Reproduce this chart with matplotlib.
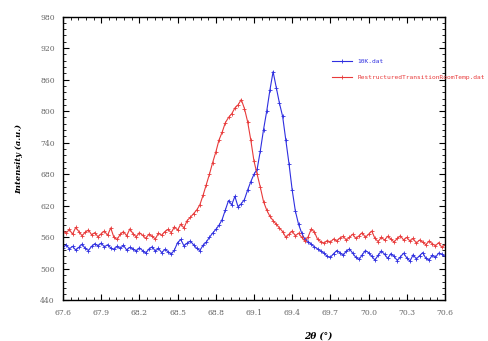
import numpy as np
import matplotlib.pyplot as plt
from matplotlib.ticker import MultipleLocator

# x grid of the scan (2theta, degrees)
two_theta = np.linspace(67.6, 70.6, 121)

# 10K.dat
intens_10k = [
    540, 546, 538, 543, 536, 541, 547, 539, 535, 543,
    548, 544, 549, 542, 546, 540, 537, 543, 539, 545,
    536, 541, 538, 534, 540, 535, 530, 538, 542, 534,
    539, 531, 537, 533, 528, 536, 550, 556, 544, 549,
    553, 546, 539, 535, 545, 551, 560, 568, 575, 583,
    594, 612, 630, 622, 638, 618, 624, 632, 650, 666,
    680, 690, 725, 765, 800, 840, 875, 845, 815, 790,
    745, 700, 650, 610, 585, 568, 556, 552, 547, 542,
    538, 534, 530, 524, 522, 529, 535, 531, 526, 534,
    538, 530, 522, 518, 527, 535, 531, 524, 517, 526,
    534, 528, 520, 529, 524, 516, 523, 530, 521, 515,
    527, 519, 525, 531, 520, 517, 526, 522, 530, 528,
    524,
]

# RestructuredTransitionRoomTemp.dat
intens_rt = [
    572, 568, 575, 566, 579, 571, 563, 570, 574, 565,
    569, 561, 567, 572, 564, 578, 560, 556, 566, 571,
    563, 576, 567, 561, 569, 564, 558, 566, 562, 557,
    568, 564, 571, 575, 569, 580, 574, 585, 578, 592,
    598, 605, 612, 622, 640, 660, 680, 702, 722, 745,
    760, 778, 788, 795, 806, 812, 822, 805, 780, 745,
    705, 680, 655, 628, 612, 600, 592, 585, 578, 571,
    560, 566, 572, 563, 568, 560, 553, 561, 576, 570,
    556, 552, 549, 554, 551, 557, 553, 559, 562, 555,
    560, 566, 558, 563, 569, 560, 566, 572, 558, 552,
    560, 555, 562, 557, 551, 558, 563, 555, 560, 553,
    558, 549, 555, 551, 546, 553, 548, 544, 550, 541,
    546,
]

names = ["10K.dat", "RestructuredTransitionRoomTemp.dat"]
colors = ["#2f2fe0", "#e83a3a"]

fig = plt.figure(figsize=(4.89, 3.41), dpi=100)
ax = fig.add_axes([0.1288, 0.1188, 0.7812, 0.8328])

for vals, name, c in zip([intens_10k, intens_rt], names, colors):
    ax.plot(two_theta, vals, '-', marker='+', markersize=2.5, markeredgewidth=0.6,
            linewidth=0.8, color=c, label=name)

ax.set_xlim(67.6, 70.6)
ax.set_ylim(440, 980)
ax.xaxis.set_major_locator(MultipleLocator(0.3, offset=67.6))
ax.xaxis.set_minor_locator(MultipleLocator(0.06, offset=67.6))
ax.yaxis.set_major_locator(MultipleLocator(60, offset=440))
ax.yaxis.set_minor_locator(MultipleLocator(12, offset=440))
ax.xaxis.set_major_formatter(plt.FuncFormatter(lambda v, p: f"{v:.1f}"))
ax.tick_params(which='both', direction='in', top=True, right=True,
               labelsize=5.5, labelcolor='#666666', pad=6)
ax.tick_params(which='major', length=4, width=0.8)
ax.tick_params(which='minor', length=2, width=0.6)
for lab in ax.get_xticklabels() + ax.get_yticklabels():
    lab.set_family('DejaVu Serif')
for s in ax.spines.values():
    s.set_linewidth(1.0)

ax.set_ylabel('Intensity (a.u.)', family='DejaVu Serif', style='italic',
              weight='bold', fontsize=6)
ax.yaxis.set_label_coords(-0.105, 0.5)
ax.set_xlabel('2θ (°)', family='DejaVu Serif', style='italic',
              weight='bold', fontsize=6.5)
ax.xaxis.set_label_coords(0.667, -0.11)

leg = ax.legend(loc='upper left', bbox_to_anchor=(0.69, 0.87), frameon=False,
                prop={'family': 'DejaVu Sans Mono', 'size': 4.5},
                handlelength=3.2, labelspacing=1.7)
for txt, c in zip(leg.get_texts(), colors):
    txt.set_color(c)
leg.set_clip_on(False)

fig.savefig('out.png', dpi=100)
